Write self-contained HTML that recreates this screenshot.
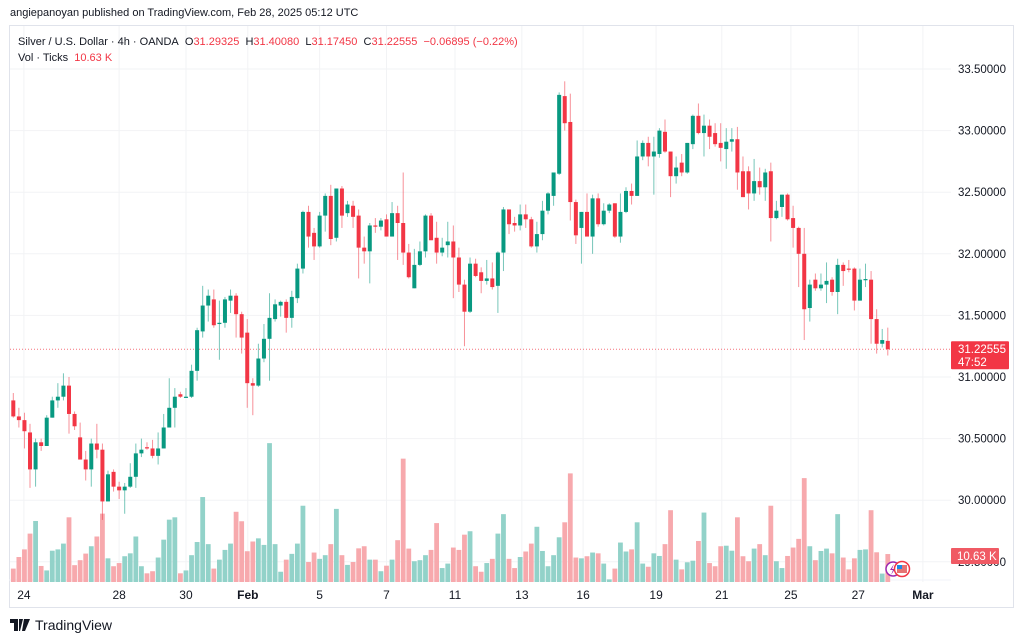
<!DOCTYPE html>
<html><head><meta charset="utf-8">
<style>
html,body{margin:0;padding:0;background:#fff;width:1024px;height:641px;overflow:hidden;font-family:"Liberation Sans",sans-serif;color:#131722}
#hdr{position:absolute;left:10px;top:7px;font-size:11px;color:#131722}
#legend{position:absolute;left:18px;top:34px;font-size:11px;line-height:16px;color:#131722}
#legend .r{color:#F23645}
#logo{position:absolute;left:10px;top:617px;font-size:14px;color:#131722;display:flex;align-items:center;gap:5px}
svg{position:absolute;left:0;top:0}
</style></head><body>
<div id="hdr">angiepanoyan published on TradingView.com, Feb 28, 2025 05:12 UTC</div>
<svg id="chart" width="1024" height="641"></svg>
<div id="legend">
<div>Silver / U.S. Dollar · 4h · OANDA&nbsp; O<span class="r">31.29325</span>&nbsp; H<span class="r">31.40080</span>&nbsp; L<span class="r">31.17450</span>&nbsp; C<span class="r">31.22555</span>&nbsp; <span class="r">−0.06895 (−0.22%)</span></div>
<div>Vol · Ticks&nbsp; <span class="r">10.63 K</span></div>
</div>
<div id="logo"><svg width="20" height="12" style="position:static" viewBox="0 0 20 12"><path d="M0 0h8v12h-4v-8h-4z M9 0h4l-3 12h-1z M14 0h6l-5 12h-3z" fill="#131722"/></svg><span>TradingView</span></div>
<script>
const O=[30.81,30.68,30.65,30.55,30.25,30.47,30.44,30.67,30.81,30.84,30.93,30.70,30.51,30.33,30.25,30.46,30.41,29.99,30.23,30.11,30.08,30.11,30.19,30.38,30.43,30.42,30.36,30.42,30.59,30.75,30.86,30.83,30.84,31.05,31.37,31.58,31.63,31.43,31.44,31.62,31.66,31.51,31.36,30.95,30.93,31.15,31.31,31.47,31.58,31.61,31.48,31.64,31.88,32.34,32.17,32.06,32.31,32.47,32.13,32.53,32.33,32.39,32.31,32.05,32.02,32.23,32.22,32.28,32.14,32.33,32.25,32.01,31.72,31.91,32.02,32.31,32.13,32.01,32.07,32.10,31.97,31.75,31.53,31.92,31.85,31.78,31.80,31.74,32.01,32.36,32.25,32.23,32.32,32.28,32.06,32.16,32.35,32.47,32.65,33.28,33.07,32.42,32.21,32.34,32.14,32.45,32.24,32.35,32.41,32.14,32.34,32.51,32.47,32.79,32.90,32.79,32.81,32.99,32.83,32.63,32.74,32.66,32.89,33.12,32.98,33.04,32.98,32.90,32.85,32.91,32.93,32.67,32.67,32.49,32.59,32.54,32.67,32.29,32.38,32.48,32.29,32.21,32.00,31.56,31.79,31.72,31.75,31.79,31.69,31.91,31.88,31.88,31.62,31.79,31.79,31.47,31.27,31.29325];
const H=[30.87,30.75,30.71,30.62,30.50,30.50,30.69,30.84,30.95,31.03,31.00,30.72,30.63,30.40,30.50,30.62,30.46,30.24,30.25,30.15,30.14,30.30,30.46,30.50,30.47,30.49,30.55,30.70,30.99,30.91,30.88,30.91,31.10,31.40,31.74,31.71,31.71,31.62,31.65,31.71,31.68,31.53,31.47,30.99,31.27,31.43,31.68,31.63,31.62,31.63,31.70,31.92,32.35,32.39,32.21,32.34,32.49,32.56,32.53,32.55,32.43,32.43,32.36,32.14,32.25,32.29,32.29,32.32,32.42,32.39,32.66,32.08,32.04,32.10,32.32,32.33,32.26,32.13,32.26,32.23,32.05,31.79,31.97,31.96,31.89,31.95,31.93,32.02,32.38,32.36,32.30,32.40,32.40,32.30,32.26,32.43,32.50,32.66,33.31,33.40,33.30,32.44,32.34,32.49,32.48,32.49,32.41,32.41,32.41,32.49,32.54,32.57,32.92,32.92,32.95,32.95,33.02,33.09,32.83,32.79,32.81,32.90,33.13,33.22,33.13,33.09,33.06,33.06,33.02,33.02,33.03,32.79,32.71,32.77,32.70,32.69,32.74,32.43,32.48,32.49,32.39,32.22,32.21,31.79,31.84,31.84,31.93,31.81,31.96,31.93,31.95,31.89,31.88,31.92,31.86,31.55,31.39,31.40080];
const L=[30.67,30.59,30.42,30.10,30.11,30.40,30.44,30.67,30.75,30.81,30.54,30.57,30.33,30.16,30.11,30.34,29.84,29.99,30.07,30.01,29.89,30.10,30.10,30.35,30.41,30.34,30.29,30.42,30.59,30.59,30.83,30.83,30.83,30.97,31.32,31.45,31.40,31.14,31.40,31.52,31.32,31.19,30.75,30.69,30.92,31.12,30.97,31.45,31.49,31.36,31.40,31.60,31.84,32.05,31.95,32.05,32.18,32.07,32.10,32.21,32.30,32.21,31.80,31.92,31.76,32.17,32.19,32.14,32.14,31.95,31.91,31.80,31.72,31.90,31.97,32.11,31.92,31.98,31.97,31.64,31.69,31.25,31.52,31.81,31.68,31.75,31.71,31.52,31.86,32.16,32.18,32.19,32.21,32.05,32.01,32.11,32.32,32.39,32.64,33.00,32.27,32.08,31.92,32.14,32.00,32.22,32.23,32.33,32.13,32.09,32.33,32.40,32.47,32.76,32.71,32.48,32.78,32.82,32.46,32.57,32.63,32.65,32.85,32.97,32.79,32.85,32.87,32.75,32.69,32.83,32.52,32.46,32.36,32.43,32.48,32.43,32.10,32.28,32.30,32.27,32.05,31.73,31.30,31.45,31.70,31.70,31.60,31.66,31.51,31.74,31.85,31.54,31.62,31.73,31.27,31.19,31.24,31.17450];
const C=[30.68,30.65,30.56,30.25,30.47,30.44,30.67,30.81,30.84,30.93,30.70,30.60,30.33,30.25,30.46,30.41,29.99,30.21,30.11,30.08,30.11,30.19,30.38,30.41,30.42,30.36,30.42,30.59,30.75,30.84,30.84,30.84,31.05,31.38,31.58,31.66,31.42,31.44,31.63,31.66,31.51,31.32,30.95,30.93,31.15,31.31,31.48,31.59,31.61,31.48,31.65,31.88,32.34,32.14,32.06,32.31,32.47,32.12,32.53,32.31,32.40,32.30,32.05,32.02,32.23,32.22,32.27,32.14,32.33,32.25,32.01,31.81,31.91,32.02,32.31,32.11,32.01,32.05,32.10,31.97,31.75,31.53,31.92,31.82,31.78,31.80,31.73,32.01,32.36,32.24,32.23,32.32,32.28,32.06,32.16,32.35,32.49,32.66,33.29,33.06,32.42,32.15,32.34,32.14,32.45,32.24,32.35,32.40,32.14,32.34,32.51,32.47,32.79,32.90,32.79,32.83,33.00,32.83,32.63,32.70,32.66,32.90,33.12,32.98,33.04,32.95,32.89,32.86,32.91,32.93,32.66,32.46,32.49,32.59,32.54,32.66,32.29,32.35,32.48,32.28,32.21,32.00,31.55,31.75,31.72,31.75,31.78,31.69,31.91,31.86,31.875,31.62,31.79,31.795,31.47,31.27,31.30,31.22555];
const VOL=[5.1,9.5,12.4,18.4,23.2,6.1,4.4,11.9,12.4,14.6,24.6,6.4,8.3,10.8,13.6,17.3,26.0,9.0,6.0,7.2,9.8,10.9,17.3,6.0,3.3,4.1,9.3,16.1,23.7,24.6,3.3,4.4,10.2,15.2,32.3,14.4,5.1,8.5,12.2,14.6,26.7,23.1,11.7,15.4,16.6,14.1,52.8,14.4,3.9,8.5,10.7,14.6,29.0,7.6,11.2,8.8,10.2,14.4,27.8,10.2,6.5,7.6,12.8,13.6,8.5,8.5,4.1,6.2,8.5,15.9,46.9,12.7,7.9,8.3,10.2,12.2,22.4,5.3,7.0,13.1,12.2,18.0,19.3,6.0,3.9,7.2,8.8,18.4,25.8,8.8,5.3,9.5,11.6,14.6,21.0,11.8,6.0,10.2,17.0,22.7,41.3,9.3,9.0,9.8,11.2,10.9,7.0,1.0,5.1,15.0,11.6,12.4,22.7,7.0,5.8,10.9,9.9,14.4,27.3,8.5,4.8,7.5,8.1,15.6,26.4,7.2,6.0,13.6,13.8,11.9,24.6,9.8,7.9,12.7,14.4,10.2,29.0,7.9,5.3,9.9,13.1,16.4,39.5,13.6,8.3,11.8,12.7,10.9,25.8,9.3,4.8,9.0,12.2,12.4,27.3,11.3,3.2,10.63];
const PRICE_TICKS=[33.5,33.0,32.5,32.0,31.5,31.0,30.5,30.0,29.5];
const DATE_LABELS=["24","28","30","Feb","5","7","11","13","16","19","21","25","27","Mar"];
const DATE_IDX=[1.9,19,31,42.1,55,67,79.3,91.3,102.3,115.4,127.2,139.6,151.7,163.3];
const LAST_PRICE=31.22555, LAST_VOL=10.63;

const NS="http://www.w3.org/2000/svg";
const svg=document.getElementById('chart');
const xS=i=>13.3+5.57*i;
const yS=p=>69+(33.5-p)*123.2;
const vS=v=>582-v*2.63;
function mk(t,a,parent){const e=document.createElementNS(NS,t);for(const k in a)e.setAttribute(k,a[k]);(parent||svg).appendChild(e);return e;}
const UP="#089981",DN="#F23645",UPV="#92d2c9",DNV="#f7a9ad";

const frame=mk('rect',{x:9.5,y:25.5,width:1004,height:582,fill:'none',stroke:'#e0e3eb'});


mk('line',{x1:9,y1:580,x2:951,y2:580,stroke:'#f0f3fa'});
const grid=mk('g',{});


PRICE_TICKS.forEach(p=>{mk('line',{x1:10,x2:951,y1:yS(p),y2:yS(p),stroke:'#f2f3f5'},grid);});
DATE_IDX.forEach(i=>{mk('line',{x1:xS(i),x2:xS(i),y1:26,y2:582,stroke:'#f2f3f5'},grid);});
const pa=mk('g',{});


PRICE_TICKS.forEach(p=>{const t=mk('text',{x:958,y:yS(p)+4,'font-size':11.5,fill:'#131722','font-family':'Liberation Sans, sans-serif'},pa);t.textContent=p.toFixed(5);

});
const ta=mk('g',{});


DATE_LABELS.forEach((d,k)=>{const b=(d==='Feb'||d==='Mar');const t=mk('text',{x:xS(DATE_IDX[k]),y:599,'text-anchor':'middle','font-size':12,'font-weight':b?'bold':'normal',fill:'#131722','font-family':'Liberation Sans, sans-serif'},ta);t.textContent=d;

});
const vg=mk('g',{});


VOL.forEach((v,i)=>{const up=C[i]>=O[i];const r=mk('rect',{x:xS(i)-2.4,y:vS(v),width:4.8,height:582-vS(v),fill:up?UPV:DNV},vg);

});
const lp=mk('line',{x1:10,x2:951,y1:yS(LAST_PRICE),y2:yS(LAST_PRICE),stroke:DN,'stroke-width':1,'stroke-dasharray':'1,2',opacity:0.7});


const cg=mk('g',{});


O.forEach((o,i)=>{const c=C[i],up=c>=o,col=up?UP:DN,x=xS(i);
const g=mk('g',{},cg);


mk('line',{x1:x,x2:x,y1:yS(H[i]),y2:yS(L[i]),stroke:col,'stroke-width':1,opacity:0.55},g);
const t=yS(Math.max(o,c)),bt=yS(Math.min(o,c));
mk('rect',{x:x-2,y:t,width:4,height:Math.max(1.2,bt-t),fill:col},g);});
const pl=mk('g',{});


const ly=yS(LAST_PRICE);
mk('rect',{x:951,y:ly-8,width:58,height:28,fill:DN,rx:1},pl);
let t1=mk('text',{x:958,y:ly+4,'font-size':11.5,fill:'#fff','font-family':'Liberation Sans, sans-serif'},pl);t1.textContent=LAST_PRICE.toFixed(5);
let t2=mk('text',{x:958,y:ly+17,'font-size':11.5,fill:'#fff','font-family':'Liberation Sans, sans-serif'},pl);t2.textContent="47:52";
const vl=mk('g',{});


mk('rect',{x:951,y:vS(LAST_VOL)-6,width:48,height:16,fill:'#f05a64',rx:1},vl);
let t3=mk('text',{x:957,y:vS(LAST_VOL)+6,'font-size':11.5,fill:'#fff','font-family':'Liberation Sans, sans-serif'},vl);t3.textContent=LAST_VOL.toFixed(2)+" K";
const ev=mk('g',{});


mk('circle',{cx:893,cy:569,r:7,fill:'#fff',stroke:'#9c27b0','stroke-width':1.5},ev);
mk('path',{d:'M894 564l-4 6h3l-2 5 4-6h-3z',fill:'#9c27b0'},ev);
mk('circle',{cx:902,cy:569,r:7.5,fill:'#fff',stroke:DN,'stroke-width':1.5},ev);
mk('rect',{x:897,y:565,width:10,height:8,fill:'#e57373'},ev);
mk('rect',{x:897,y:565,width:5,height:4,fill:'#1e88e5'},ev);
</script>
</body></html>
